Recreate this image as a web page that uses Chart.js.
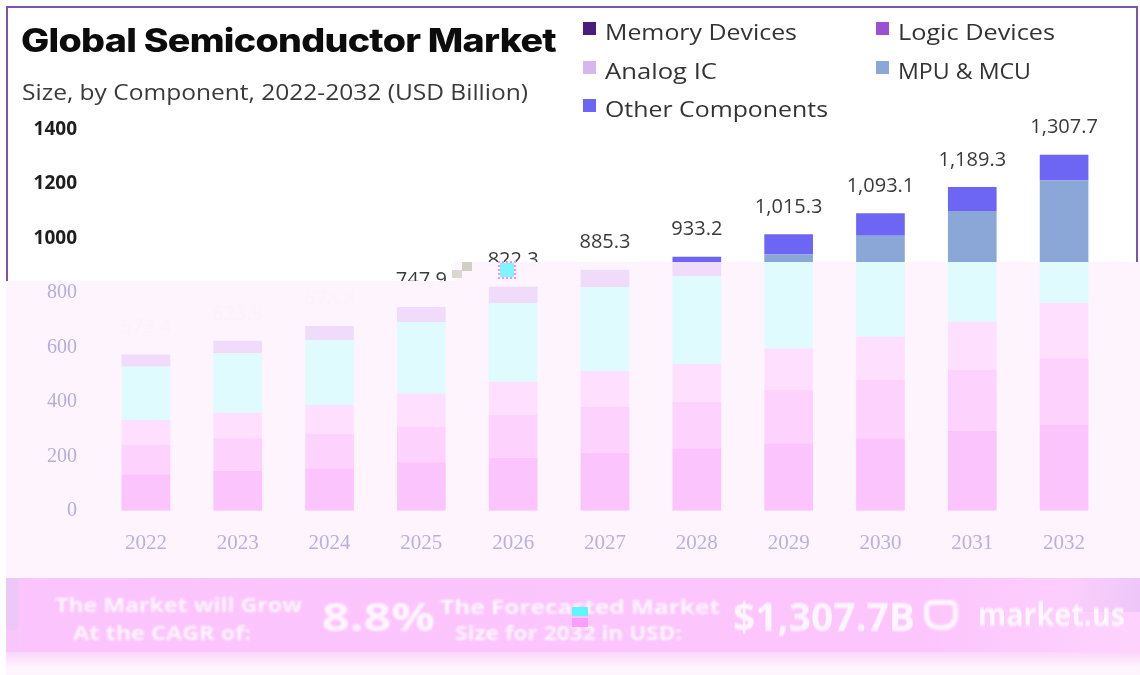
<!DOCTYPE html>
<html>
<head>
<meta charset="utf-8">
<script src="https://cdn.jsdelivr.net/npm/chart.js@4.4.1/dist/chart.umd.min.js"></script>
<style>
html,body{margin:0;padding:0;width:1140px;height:675px;overflow:hidden;background:#fff;}
#wrap{position:relative;width:1140px;height:675px;overflow:hidden;}
#card{position:absolute;left:6px;top:6px;width:1128px;height:320px;border:2px solid #7e52ad;border-bottom:none;background:#fff;}
.wash{position:absolute;background:#fdf4fd;}
#c{position:absolute;left:0;top:0;}
.txt{position:absolute;white-space:nowrap;line-height:1;transform-origin:0 50%;}
#title{left:21px;top:21px;font:800 32px Inter, sans-serif;color:#0c0c0c;letter-spacing:-0.6px;}
#subtitle{left:22px;top:78px;font:400 21px "Open Sans", sans-serif;color:#3a3a3a;}
.lg-box{position:absolute;width:13px;height:13px;}
.lg-txt{font:400 22px "Open Sans", sans-serif;color:#333;}
#banner{position:absolute;left:6px;top:578px;width:1134px;height:80px;
  background:linear-gradient(90deg,#f6c8fb 0%,#fcc4fc 2%,#fcc5fc 80%,#fdd3fd 100%);}
#bannerFade{position:absolute;left:6px;top:652px;width:1134px;height:16px;background:linear-gradient(#fcd6fc,#fdf6fd);}
.bt{color:#fff;font-family:"Open Sans",sans-serif;font-weight:700;opacity:.85;filter:blur(.8px);}
.glitch{position:absolute;}
</style>
</head>
<body>
<div id="wrap">
  <div id="card"></div>
  <div class="wash" style="left:6px;top:281px;width:449px;height:394px"></div>
  <div class="wash" style="left:455px;top:262px;width:685px;height:413px"></div>
  <canvas id="c" width="1140" height="675"></canvas>
  <div id="title" class="txt">Global Semiconductor Market</div>
  <div id="subtitle" class="txt">Size, by Component, 2022-2032 (USD Billion)</div>
  <div id="legend"></div>
  <div id="banner"></div>
  <div id="bannerFade"></div>
  <div style="position:absolute;left:6px;top:578px;width:12px;height:52px;background:#ecc7f8"></div>
  <div style="position:absolute;left:1060px;top:578px;width:80px;height:34px;background:linear-gradient(90deg,rgba(240,200,248,0),#eec6f8)"></div>
  <div class="txt bt" id="b1" style="left:55px;top:595px;font-size:20px">The Market will Grow</div>
  <div class="txt bt" id="b2" style="left:73px;top:623px;font-size:20px">At the CAGR of:</div>
  <div class="txt bt" id="b3" style="left:322px;top:596px;font-size:40px">8.8%</div>
  <div class="txt bt" id="b4" style="left:440px;top:597px;font-size:20px">The Forecasted Market</div>
  <div class="txt bt" id="b5" style="left:455px;top:623px;font-size:20px">Size for 2032 in USD:</div>
  <div class="txt bt" id="b6" style="left:733px;top:596px;font-size:40px">$1,307.7B</div>
  <div class="bt" style="position:absolute;left:924px;top:600px;width:34px;height:30px;border:5px solid #fff;border-radius:8px 8px 14px 14px;box-sizing:border-box"></div>
  <div class="txt bt" id="b7" style="left:978px;top:598px;font-size:32px">market.us</div>
  <div class="glitch" style="left:572px;top:607px;width:16px;height:9px;background:#5ef6fd"></div>
  <div class="glitch" style="left:572px;top:618px;width:16px;height:9px;background:#fd9dfd"></div>
  <div class="glitch" style="left:462px;top:262px;width:10px;height:9px;background:#cfcfc4"></div>
  <div class="glitch" style="left:452px;top:270px;width:10px;height:8px;background:#d9d9d0"></div>
  <div class="glitch" style="left:500px;top:263px;width:14px;height:14px;background:#7ff4fb;outline:2px dotted #f58ef5"></div>
</div>
<script>
// ---------------- data ----------------
const years = ['2022','2023','2024','2025','2026','2027','2028','2029','2030','2031','2032'];
const memoryDevices   = [134, 147, 156, 178, 195, 213, 229, 248, 266, 293, 317];
const logicDevices    = [107, 119, 128, 131, 157, 169, 171, 195, 214, 224, 243];
const analogIC        = [92, 94, 104, 122, 122, 131, 139, 154, 159, 177, 204];
const mpuMcu          = [196, 218, 238, 262, 288, 309, 323, 344, 371, 407, 449];
const otherComponents = [44.4, 45.9, 52.8, 54.9, 60.3, 63.3, 71.2, 74.3, 83.1, 88.3, 94.7];
const yTickValues = [0, 200, 400, 600, 800, 1000, 1200, 1400];
const seriesNames = ['Memory Devices', 'Logic Devices', 'Analog IC', 'MPU & MCU', 'Other Components'];

// ---------------- styles ----------------
const trueColors = ['#4a1c7c', '#9a50d2', '#d7b6ee', '#8ba7d7', '#6d65f4'];
const washColors = ['#fcc4fc', '#fdd2fd', '#fee0fe', '#dffbfd', '#f0dcfa'];
const WASH_TOP = 262;      // wash boundary (right part)
const WASH_TOP_LEFT = 281; // wash boundary (left part)
const WASH_STEP_X = 455;

// legend (HTML) built from series names/colours
const legendPos = [[583, 28], [876, 28], [583, 67], [876, 67], [583, 105]];
const lg = document.getElementById('legend');
seriesNames.forEach((n, i) => {
  const [x, cy] = legendPos[i];
  const b = document.createElement('div');
  b.className = 'lg-box';
  b.style.left = x + 'px'; b.style.top = (cy - 6) + 'px'; b.style.background = trueColors[i];
  lg.appendChild(b);
  const t = document.createElement('div');
  t.className = 'txt lg-txt';
  t.textContent = n;
  t.style.left = (x + 22) + 'px'; t.style.top = (cy - 12) + 'px';
  lg.appendChild(t);
});

function fitWidth(el, w) {
  const cur = el.getBoundingClientRect().width;
  el.style.transform = 'scaleX(' + (w / cur) + ')';
}
const lgTargets = [192, 157, 112, 133, 223];
document.querySelectorAll('.lg-txt').forEach((el, i) => fitWidth(el, lgTargets[i]));
fitWidth(document.getElementById('title'), 535);
fitWidth(document.getElementById('subtitle'), 506);
[['b1',247],['b2',178],['b3',113],['b4',280],['b5',227],['b6',182],['b7',147]].forEach(([id,w]) => fitWidth(document.getElementById(id), w));

// gradient: true colour above the wash, washed colour below
const gradCache = {};
function splitFill(chart, i) {
  if (gradCache[i]) return gradCache[i];
  const g = chart.ctx.createLinearGradient(0, 0, 0, chart.height);
  const t = WASH_TOP / chart.height;
  g.addColorStop(0, trueColors[i]);
  g.addColorStop(t, trueColors[i]);
  g.addColorStop(t, washColors[i]);
  g.addColorStop(1, washColors[i]);
  gradCache[i] = g;
  return g;
}

function clipAbove(ctx) {
  ctx.beginPath();
  ctx.moveTo(0, 0); ctx.lineTo(1140, 0); ctx.lineTo(1140, WASH_TOP);
  ctx.lineTo(WASH_STEP_X, WASH_TOP); ctx.lineTo(WASH_STEP_X, WASH_TOP_LEFT);
  ctx.lineTo(0, WASH_TOP_LEFT); ctx.closePath(); ctx.clip();
}
function clipBelow(ctx) {
  ctx.beginPath();
  ctx.moveTo(0, WASH_TOP_LEFT); ctx.lineTo(WASH_STEP_X, WASH_TOP_LEFT);
  ctx.lineTo(WASH_STEP_X, WASH_TOP); ctx.lineTo(1140, WASH_TOP);
  ctx.lineTo(1140, 675); ctx.lineTo(0, 675); ctx.closePath(); ctx.clip();
}

const totalsPlugin = {
  id: 'totals',
  afterDatasetsDraw(chart) {
    const ctx = chart.ctx;
    const meta = chart.getDatasetMeta(chart.data.datasets.length - 1);
    const ys = chart.scales.y;
    years.forEach((yr, i) => {
      const total = chart.data.datasets.reduce((s, d) => s + d.data[i], 0);
      const text = total.toLocaleString('en-US', {minimumFractionDigits: 1, maximumFractionDigits: 1});
      const x = meta.data[i].x;
      const y = ys.getPixelForValue(total) - 27;
      ctx.save();
      ctx.font = '400 20px "Open Sans"';
      ctx.textAlign = 'center';
      ctx.textBaseline = 'middle';
      ctx.save(); clipAbove(ctx); ctx.fillStyle = '#3a3a3a'; ctx.fillText(text, x, y); ctx.restore();
      ctx.save(); clipBelow(ctx); ctx.fillStyle = '#fbf2fb'; ctx.fillText(text, x, y); ctx.restore();
      ctx.restore();
    });
  }
};

const seriesData = [memoryDevices, logicDevices, analogIC, mpuMcu, otherComponents];

new Chart(document.getElementById('c'), {
  type: 'bar',
  data: {
    labels: years,
    datasets: seriesNames.map((n, i) => ({
      label: n,
      data: seriesData[i],
      backgroundColor: (ctx) => splitFill(ctx.chart, i),
      borderWidth: 0,
      categoryPercentage: 1,
      barPercentage: 0.53
    }))
  },
  options: {
    responsive: false,
    devicePixelRatio: 1,
    animation: false,
    layout: {padding: {left: 20, right: 30, top: 129.6, bottom: 114.3}},
    plugins: {legend: {display: false}, title: {display: false}, tooltip: {enabled: false}},
    scales: {
      x: {
        stacked: true,
        grid: {display: false, drawTicks: false},
        border: {display: false},
        afterFit: (a) => { a.height = 50; },
        ticks: {
          padding: 20,
          color: '#b6b2dd',
          font: {family: 'Liberation Serif', size: 21}
        }
      },
      y: {
        stacked: true,
        min: 0, max: 1400,
        afterFit: (a) => { a.width = 80; },
        afterBuildTicks: (a) => { a.ticks = yTickValues.map(v => ({value: v})); },
        grid: {display: false, drawTicks: false},
        border: {display: false},
        ticks: {
          padding: 23,
          callback: (v) => String(v),
          color: (c) => (c.tick && c.tick.value >= 1000) ? '#1e1e1e' : '#b3afda',
          font: (c) => (c.tick && c.tick.value >= 1000)
            ? {family: 'Open Sans', size: 19, weight: 'bold'}
            : {family: 'Liberation Serif', size: 20}
        }
      }
    }
  },
  plugins: [totalsPlugin]
});
</script>
</body>
</html>
